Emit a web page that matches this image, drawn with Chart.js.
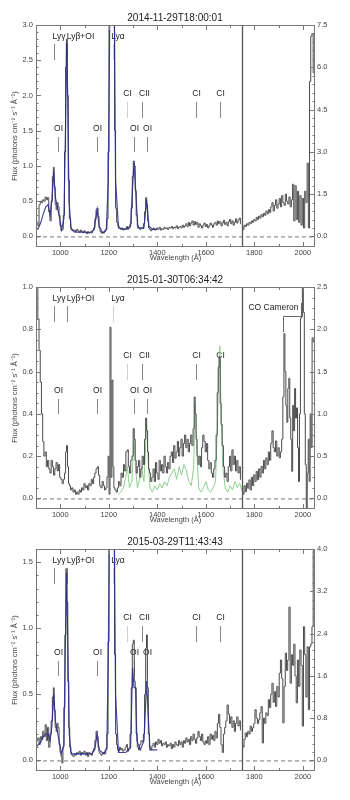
<!DOCTYPE html>
<html><head><meta charset="utf-8">
<script src="https://cdn.jsdelivr.net/npm/chart.js@4.4.1/dist/chart.umd.min.js"></script>
<style>
html,body{margin:0;padding:0;background:#fff;}
canvas{display:block;}
</style></head><body>
<canvas id="c1" width="350" height="262"></canvas>
<canvas id="c2" width="350" height="262"></canvas>
<canvas id="c3" width="350" height="276"></canvas>
<script>
// ---------- DATA ----------
const titles = ["2014-11-29T18:00:01", "2015-01-30T06:34:42", "2015-03-29T11:43:43"];
const xTicks = [1000, 1200, 1400, 1600, 1800, 2000];
const splitLambda = 1750;

// Panel 1
const p1LamL = [900,905,910,915,920,925,930,935,940,945,950,955,960,965,970,973,977,981,985,989,993,997,1001,1005,1010,1015,1020,1024,1027,1031,1035,1040,1045,1050,1055,1060,1065,1070,1075,1080,1085,1090,1095,1100,1105,1110,1115,1120,1125,1130,1135,1140,1145,1150,1154,1158,1162,1166,1170,1175,1180,1185,1190,1195,1199,1203,1208,1213,1218,1222,1226,1230,1235,1240,1245,1250,1255,1260,1265,1270,1275,1280,1285,1290,1295,1299,1303,1307,1311,1315,1320,1325,1330,1335,1340,1345,1350,1354,1358,1362,1366,1370,1375,1380,1385,1390,1395,1400,1405,1410,1415,1420,1425,1430,1435,1440,1445,1450,1455,1460,1465,1470,1475,1480,1485,1490,1495,1500,1505,1510,1515,1520,1525,1530,1535,1540,1545,1550,1555,1560,1565,1570,1575,1580,1585,1590,1595,1600,1605,1610,1615,1620,1625,1630,1635,1640,1645,1650,1655,1660,1665,1670,1675,1680,1685,1690,1695,1700,1705,1710,1715,1720,1725,1730,1735,1740,1745];
const p1FluxL = [0.35,0.20,0.15,0.45,0.50,0.48,0.52,0.50,0.56,0.52,0.55,0.35,0.22,0.50,0.85,0.98,0.70,0.45,0.38,0.48,0.42,0.30,0.15,0.08,0.10,0.30,1.20,2.40,2.80,2.00,0.80,0.25,0.12,0.10,0.08,0.09,0.07,0.10,0.08,0.06,0.09,0.07,0.05,0.08,0.06,0.04,0.07,0.05,0.06,0.05,0.08,0.12,0.25,0.38,0.40,0.28,0.12,0.07,0.05,0.06,0.05,0.07,0.10,0.25,1.20,3.50,3.50,3.50,3.50,3.50,1.50,0.40,0.20,0.15,0.12,0.10,0.12,0.09,0.11,0.10,0.14,0.10,0.12,0.18,0.40,0.85,1.07,1.00,0.65,0.30,0.15,0.12,0.10,0.12,0.11,0.18,0.35,0.55,0.45,0.22,0.12,0.10,0.08,0.10,0.12,0.09,0.10,0.12,0.10,0.13,0.09,0.11,0.10,0.13,0.11,0.12,0.10,0.13,0.12,0.14,0.11,0.13,0.12,0.15,0.11,0.13,0.14,0.12,0.16,0.13,0.15,0.18,0.14,0.20,0.15,0.19,0.22,0.16,0.21,0.17,0.20,0.13,0.18,0.15,0.12,0.16,0.19,0.14,0.17,0.12,0.15,0.19,0.16,0.13,0.18,0.20,0.16,0.22,0.18,0.21,0.15,0.19,0.23,0.17,0.20,0.15,0.21,0.24,0.18,0.22,0.16,0.20,0.25,0.19,0.23,0.26,0.18];
const p1LamR = [1750,1755,1760,1765,1770,1775,1780,1785,1790,1795,1800,1805,1810,1815,1820,1825,1830,1835,1840,1845,1850,1855,1860,1865,1870,1875,1880,1885,1890,1895,1900,1905,1910,1915,1920,1925,1930,1935,1940,1945,1950,1955,1960,1965,1970,1975,1980,1985,1990,1995,2000,2005,2010,2015,2020,2025,2030,2035,2040,2045];
const p1FluxR = [0.35,0.25,0.40,0.35,0.45,0.40,0.50,0.45,0.55,0.50,0.60,0.55,0.68,0.60,0.72,0.65,0.78,0.70,0.82,0.75,0.90,0.80,0.95,0.85,1.05,1.20,0.90,1.10,1.30,1.00,1.15,1.35,1.05,1.45,1.20,1.10,1.50,1.25,1.15,1.40,1.05,1.30,1.85,0.55,1.80,0.60,1.60,0.50,1.45,0.40,1.35,0.30,1.60,1.20,2.60,0.30,5.50,7.10,7.20,5.80];
const p1ModelLam = [900,910,920,930,940,950,958,965,973,980,988,995,1005,1015,1022,1026,1030,1036,1045,1060,1080,1100,1120,1140,1152,1160,1175,1190,1198,1205,1222,1228,1240,1270,1290,1298,1304,1310,1320,1345,1356,1365,1380,1400];
const p1Model = [0.10,0.12,0.20,0.32,0.42,0.45,0.30,0.50,0.92,0.55,0.42,0.30,0.10,0.25,1.60,2.75,2.10,0.50,0.10,0.06,0.06,0.06,0.05,0.10,0.38,0.15,0.05,0.10,0.80,3.50,3.50,0.80,0.12,0.10,0.15,0.70,1.05,0.70,0.12,0.12,0.52,0.15,0.10,0.10];

// Panel 2
const p2LamL = [900,905,910,915,920,925,930,935,940,945,950,955,960,965,970,975,980,985,990,995,1000,1005,1010,1015,1020,1024,1028,1032,1036,1040,1045,1050,1055,1060,1065,1070,1075,1080,1085,1090,1095,1100,1105,1110,1115,1120,1125,1130,1135,1140,1145,1150,1155,1160,1165,1170,1175,1180,1185,1190,1195,1199,1203,1207,1211,1215,1219,1223,1228,1233,1238,1243,1248,1253,1258,1263,1268,1273,1278,1283,1288,1293,1298,1303,1307,1311,1315,1320,1325,1330,1335,1340,1345,1350,1354,1358,1362,1366,1370,1375,1380,1385,1390,1395,1400,1405,1410,1415,1420,1425,1430,1435,1440,1445,1450,1455,1460,1465,1470,1475,1480,1485,1490,1495,1500,1505,1510,1515,1520,1525,1530,1535,1540,1545,1550,1554,1558,1562,1566,1570,1575,1580,1585,1590,1595,1600,1605,1610,1615,1620,1625,1630,1635,1640,1645,1649,1653,1657,1661,1665,1670,1675,1680,1685,1690,1695,1700,1705,1710,1715,1720,1725,1730,1735,1740,1745];
const p2FluxL = [1.05,1.00,0.85,0.70,0.55,0.40,0.27,0.20,0.22,0.15,0.18,0.14,0.12,0.18,0.15,0.11,0.14,0.17,0.13,0.16,0.10,0.09,0.07,0.09,0.12,0.22,0.25,0.15,0.07,0.06,0.04,0.05,0.03,0.04,0.02,0.03,0.02,0.04,0.03,0.05,0.04,0.07,0.05,0.06,0.04,0.07,0.06,0.09,0.07,0.10,0.12,0.14,0.15,0.11,0.06,0.05,0.08,0.06,0.04,0.05,0.10,0.20,0.02,0.81,0.10,0.56,0.15,0.05,0.04,0.03,0.05,0.08,0.06,0.12,0.10,0.16,0.13,0.22,0.23,0.15,0.12,0.18,0.20,0.33,0.28,0.18,0.12,0.15,0.18,0.10,0.14,0.20,0.16,0.28,0.38,0.32,0.22,0.14,0.12,0.08,0.10,0.14,0.08,0.17,0.12,0.09,0.18,0.13,0.16,0.12,0.20,0.15,0.12,0.17,0.14,0.20,0.22,0.17,0.25,0.19,0.22,0.27,0.20,0.24,0.28,0.20,0.26,0.30,0.24,0.28,0.22,0.26,0.30,0.25,0.33,0.48,0.40,0.28,0.20,0.16,0.20,0.15,0.24,0.30,0.27,0.22,0.26,0.18,0.14,0.17,0.12,0.10,0.14,0.18,0.30,0.50,0.62,0.67,0.45,0.35,0.25,0.15,0.10,0.12,0.08,0.15,0.20,0.13,0.23,0.16,0.20,0.13,0.18,0.12,0.15,0.09];
const p2LamR = [1750,1755,1760,1765,1770,1775,1780,1785,1790,1795,1800,1805,1810,1815,1820,1825,1830,1835,1840,1845,1850,1855,1860,1865,1870,1875,1880,1885,1890,1895,1900,1905,1910,1915,1920,1924,1928,1932,1936,1940,1944,1948,1952,1956,1960,1964,1968,1972,1976,1980,1984,1988,1992,1996,2000,2004,2008,2012,2016,2020,2024,2028,2032,2036,2040,2045];
const p2FluxR = [0.10,0.05,0.15,0.08,0.18,0.12,0.22,0.10,0.25,0.15,0.28,0.20,0.32,0.22,0.35,0.25,0.38,0.30,0.45,0.35,0.48,0.40,0.55,0.45,0.65,0.80,0.60,0.55,0.68,0.50,0.60,0.48,0.55,0.70,1.20,1.95,1.50,1.10,0.90,1.30,1.42,0.95,0.70,0.32,1.10,0.80,1.30,0.95,1.07,0.60,0.20,1.00,2.13,2.15,2.50,2.20,1.00,0.40,-0.12,0.30,0.70,0.20,1.00,0.60,1.90,1.85];
const p2ModelLam = [1240,1250,1260,1270,1277,1285,1295,1304,1310,1318,1325,1335,1345,1356,1362,1370,1380,1390,1400,1410,1420,1430,1440,1450,1460,1470,1480,1490,1500,1510,1520,1530,1540,1550,1556,1562,1570,1580,1590,1600,1610,1620,1630,1640,1648,1654,1658,1663,1670,1680,1690,1700,1710,1720,1730,1740,1748];
const p2Model = [0.02,0.03,0.05,0.10,0.15,0.05,0.08,0.28,0.15,0.05,0.08,0.15,0.08,0.35,0.18,0.05,0.03,0.06,0.04,0.07,0.05,0.08,0.06,0.10,0.12,0.14,0.09,0.15,0.11,0.16,0.13,0.08,0.06,0.15,0.45,0.25,0.05,0.03,0.05,0.08,0.04,0.03,0.05,0.08,0.35,0.65,0.72,0.40,0.15,0.05,0.03,0.06,0.04,0.08,0.05,0.07,0.04];

// Panel 3
const p3LamL = [900,905,910,915,920,925,930,935,940,945,950,955,960,965,970,973,977,981,985,989,993,997,1001,1005,1009,1013,1017,1021,1025,1029,1033,1037,1041,1045,1050,1055,1060,1065,1070,1075,1080,1085,1090,1095,1100,1105,1110,1115,1120,1125,1130,1135,1140,1145,1150,1154,1158,1162,1166,1170,1175,1180,1185,1190,1195,1199,1203,1208,1213,1218,1222,1226,1230,1234,1238,1242,1246,1250,1255,1260,1265,1270,1275,1280,1285,1290,1295,1299,1303,1307,1311,1315,1320,1325,1330,1335,1340,1345,1350,1354,1357,1361,1365,1370,1375,1380,1385,1390,1395,1400,1405,1410,1415,1420,1425,1430,1435,1440,1445,1450,1455,1460,1465,1470,1475,1480,1485,1490,1495,1500,1505,1510,1515,1520,1525,1530,1535,1540,1545,1550,1555,1560,1565,1570,1575,1580,1585,1590,1595,1600,1605,1610,1615,1620,1625,1630,1635,1640,1645,1650,1655,1660,1665,1670,1675,1680,1685,1690,1695,1700,1705,1710,1715,1720,1725,1730,1735,1740,1745];
const p3FluxL = [0.08,0.15,0.17,0.12,0.18,0.16,0.22,0.18,0.27,0.15,0.25,0.10,0.20,0.30,0.48,0.55,0.38,0.25,0.22,0.28,0.25,0.12,0.06,0.03,-0.02,0.10,0.40,0.95,1.45,1.20,0.60,0.25,0.10,0.06,0.04,0.03,0.05,0.04,0.06,0.05,0.07,0.04,0.06,0.05,0.07,0.04,0.06,0.03,0.06,0.05,0.04,0.07,0.09,0.15,0.22,0.18,0.10,0.06,0.05,0.04,0.05,0.06,0.05,0.08,0.20,0.90,1.80,1.80,1.80,1.80,1.80,0.80,0.20,0.12,0.08,0.07,0.10,0.08,0.09,0.07,0.08,0.10,0.12,0.07,0.09,0.20,0.55,0.88,0.91,0.60,0.55,0.20,0.10,0.08,0.12,0.15,0.14,0.20,0.50,0.85,0.95,0.55,0.20,0.10,0.08,0.11,0.13,0.10,0.14,0.12,0.16,0.13,0.15,0.11,0.13,0.12,0.14,0.10,0.12,0.11,0.13,0.09,0.12,0.10,0.14,0.12,0.11,0.15,0.12,0.14,0.10,0.15,0.13,0.17,0.14,0.16,0.12,0.18,0.15,0.20,0.16,0.13,0.17,0.22,0.18,0.15,0.20,0.14,0.12,0.15,0.13,0.18,0.12,0.20,0.16,0.19,0.15,0.22,0.17,0.28,0.35,0.25,0.12,0.06,0.20,0.25,0.30,0.42,0.35,0.28,0.33,0.25,0.30,0.22,0.28,0.33,0.26,0.30,0.23];
const p3LamR = [1750,1755,1760,1765,1770,1775,1780,1785,1790,1795,1800,1805,1810,1815,1820,1825,1830,1835,1840,1845,1850,1855,1860,1865,1870,1875,1880,1885,1890,1895,1900,1905,1910,1915,1920,1925,1930,1935,1940,1945,1950,1955,1960,1965,1970,1975,1980,1985,1990,1995,2000,2005,2010,2015,2020,2025,2030,2035,2040,2045];
const p3FluxR = [0.30,0.25,0.40,0.52,0.45,0.55,0.50,0.65,0.55,0.62,0.70,0.96,0.80,0.70,0.77,0.90,1.02,0.33,0.80,0.70,0.90,0.85,1.15,1.00,1.25,1.46,1.10,1.30,1.02,1.40,1.20,1.65,1.90,1.55,0.71,1.40,2.03,1.70,1.90,2.90,1.46,2.00,1.80,2.20,1.60,1.09,1.90,1.40,2.09,1.80,0.65,2.53,2.00,1.20,2.15,0.96,2.15,2.20,2.53,3.97];
const p3ModelLam = [900,910,920,930,940,950,958,965,973,980,988,995,1005,1015,1021,1026,1031,1037,1045,1070,1100,1130,1142,1152,1160,1180,1192,1198,1203,1222,1228,1240,1270,1290,1298,1304,1310,1316,1330,1345,1356,1362,1370,1400];
const p3Model = [0.10,0.12,0.14,0.18,0.20,0.20,0.15,0.25,0.50,0.30,0.22,0.15,0.05,0.12,0.85,1.42,0.90,0.20,0.05,0.05,0.05,0.05,0.08,0.20,0.08,0.05,0.10,0.80,1.80,1.80,0.50,0.06,0.06,0.10,0.70,0.55,0.55,0.15,0.08,0.15,0.60,0.35,0.08,0.08];

// axis ranges / ticks
const p1LeftTicks = [0, 0.5, 1.0, 1.5, 2.0, 2.5, 3.0];
const p1RightTicks = [0, 1.5, 3.0, 4.5, 6.0, 7.5];
const p2LeftTicks = [0, 0.2, 0.4, 0.6, 0.8, 1.0];
const p2RightTicks = [0, 0.5, 1.0, 1.5, 2.0, 2.5];
const p3LeftTicks = [0, 0.5, 1.0, 1.5];
const p3RightTicks = [0, 0.8, 1.6, 2.4, 3.2, 4.0];
const leftMax = [3.0, 1.0, 1.6];
const rightMax = [7.5, 2.5, 4.0];

// spectral line identifications: [label, wavelength, row]
const lineIds = [
  ["Lyγ", 973, 0], ["Lyβ+OI", 1026, 0], ["Lyα", 1216, 0],
  ["CI", 1277, 1], ["CII", 1335, 1], ["CI", 1561, 1], ["CI", 1657, 1],
  ["OI", 989, 2], ["OI", 1152, 2], ["OI", 1304, 2], ["OI", 1356, 2]
];
const coCameron = ["CO Cameron", 1918, 1992];

// ---------- STYLE ----------
const FONT = "'Liberation Sans', Arial, Helvetica, sans-serif";
const labelDx = {"Lyγ": 4.5, "Lyβ+OI": 13, "Lyα": 4.5, "CII": 2};
const rowGeom = [ {label: 12, y0: 19, y1: 35}, {label: 69, y0: 77, y1: 93}, {label: 104, y0: 112, y1: 127} ];
const lightMarkers = {"Lyα": true, "CI@1277": true};

function pts(lam, val) { return lam.map((x, i) => ({x: x, y: val[i]})); }

const decor = {
  id: 'decor',
  beforeDatasetsDraw(chart, args, o) {
    const {ctx, chartArea: a, scales: {x}} = chart;
    ctx.save();
    const y0 = chart.scales.y.getPixelForValue(0);
    ctx.strokeStyle = '#777'; ctx.lineWidth = 1; ctx.setLineDash([4, 3]);
    ctx.beginPath(); ctx.moveTo(a.left, y0 + 0.5); ctx.lineTo(a.right, y0 + 0.5); ctx.stroke();
    ctx.setLineDash([]);
    ctx.font = "8.5px " + FONT; ctx.textAlign = 'center'; ctx.textBaseline = 'middle';
    lineIds.forEach(([lab, lam, row]) => {
      const px = Math.round(x.getPixelForValue(lam)) + 0.5;
      const g = rowGeom[row];
      const light = lightMarkers[lab] || lightMarkers[lab + '@' + lam];
      ctx.strokeStyle = light ? '#d0d0d0' : '#888';
      ctx.beginPath(); ctx.moveTo(px, a.top + g.y0); ctx.lineTo(px, a.top + g.y1); ctx.stroke();
      ctx.fillStyle = '#222';
      ctx.fillText(lab, px + (labelDx[lab] || 0), a.top + g.label);
    });
    if (o.co) {
      const xl = Math.round(x.getPixelForValue(coCameron[1])) + 0.5;
      const xr = Math.round(x.getPixelForValue(coCameron[2])) + 0.5;
      const yb = a.top + 29.5;
      ctx.strokeStyle = '#666';
      ctx.beginPath(); ctx.moveTo(xl, a.top + 45); ctx.lineTo(xl, yb); ctx.lineTo(xr, yb); ctx.lineTo(xr, a.top + 16); ctx.stroke();
      ctx.fillStyle = '#222';
      ctx.fillText(coCameron[0], (xl + xr) / 2 - 19, a.top + 21);
    }
    ctx.restore();
  },
  afterDatasetsDraw(chart) {
    const {ctx, chartArea: a, scales: {x}} = chart;
    ctx.save();
    const px = Math.round(x.getPixelForValue(splitLambda)) + 0.5;
    ctx.strokeStyle = '#555'; ctx.lineWidth = 1.3;
    ctx.beginPath(); ctx.moveTo(px, a.top); ctx.lineTo(px, a.bottom); ctx.stroke();
    ctx.restore();
  },
  afterDraw(chart, args, o) {
    const {ctx, chartArea: a, scales} = chart;
    ctx.save();
    ctx.strokeStyle = '#777'; ctx.lineWidth = 1;
    ctx.strokeRect(a.left + 0.5, a.top + 0.5, a.right - a.left - 1, a.bottom - a.top - 1);
    for (let v = 900; v <= 2050; v += 100) {
      const px = Math.round(scales.x.getPixelForValue(v)) + 0.5;
      const len = (v % 200 === 0) ? 5 : 3;
      ctx.beginPath();
      ctx.moveTo(px, a.bottom); ctx.lineTo(px, a.bottom - len);
      ctx.moveTo(px, a.top); ctx.lineTo(px, a.top + len);
      ctx.stroke();
    }
    [['y', a.left, 1, o.lt], ['y2', a.right, -1, o.rt]].forEach(([id, x0, dir, ticks]) => {
      const sc = scales[id];
      const step = ticks[1] - ticks[0];
      const nm = o.minor;
      for (let i = 0; i < ticks.length; i++) {
        for (let k = 0; k < nm; k++) {
          const v = ticks[i] + k * step / nm;
          if (v > sc.max + 1e-9) continue;
          const py = Math.round(sc.getPixelForValue(v)) + 0.5;
          const len = k === 0 ? 5 : 2.5;
          ctx.beginPath(); ctx.moveTo(x0, py); ctx.lineTo(x0 + dir * len, py); ctx.stroke();
        }
      }
    });
    ctx.restore();
  }
};

function makeChart(id, idx, d) {
  const tickFont = {size: 7.5, family: FONT};
  const datasets = [];
  if (d.model) {
    datasets.push({data: pts(d.modelLam, d.model), yAxisID: 'y', borderColor: d.modelColor,
      borderWidth: d.modelWidth, pointRadius: 0, order: d.modelOrder});
  }
  datasets.push({data: pts(d.lamL, d.fluxL), yAxisID: 'y', borderColor: '#4a4a4a', borderWidth: 1,
    pointRadius: 0, stepped: 'middle', order: 1});
  datasets.push({data: pts(d.lamR, d.fluxR), yAxisID: 'y2', borderColor: '#4a4a4a', borderWidth: 1,
    pointRadius: 0, stepped: 'middle', order: 1});
  return new Chart(document.getElementById(id), {
    type: 'line',
    data: {datasets},
    plugins: [decor],
    options: {
      responsive: false, animation: false, devicePixelRatio: 1,
      layout: {padding: {top: 0, left: 0, right: 0, bottom: d.bottomPad || 0}},
      plugins: {
        legend: {display: false}, tooltip: {enabled: false},
        title: {display: true, text: titles[idx], color: '#222',
          font: {size: 10, family: FONT, weight: 'normal'}, padding: {top: 12.5, bottom: 0.5}},
        decor: {lt: d.lt, rt: d.rt, minor: d.minor, co: d.co}
      },
      scales: {
        x: {type: 'linear', min: 900, max: 2050,
          afterBuildTicks: s => { s.ticks = xTicks.map(v => ({value: v})); },
          afterFit: s => { s.height = 15; },
          ticks: {font: tickFont, color: '#444', padding: 1, maxRotation: 0, autoSkip: false, callback: v => String(v)},
          grid: {display: false, drawTicks: false}, border: {display: false},
          title: {display: true, text: 'Wavelength (Å)', font: {size: 7.5, family: FONT}, color: '#444', padding: {top: 0, bottom: 0}}
        },
        y: {position: 'left', min: -0.05 * leftMax[idx], max: leftMax[idx],
          afterBuildTicks: s => { s.ticks = d.lt.map(v => ({value: v})); },
          afterFit: s => { s.width = 36; },
          ticks: {font: tickFont, color: '#444', padding: 3, callback: v => v.toFixed(1)},
          grid: {display: false, drawTicks: false}, border: {display: false},
          title: {display: true, text: 'Flux (photons cm⁻² s⁻¹ Å⁻¹)', font: {size: 7.5, family: FONT}, color: '#444', padding: {top: 10.5, bottom: 0}}
        },
        y2: {position: 'right', min: -0.05 * rightMax[idx], max: rightMax[idx],
          afterBuildTicks: s => { s.ticks = d.rt.map(v => ({value: v})); },
          afterFit: s => { s.width = 35; },
          ticks: {font: tickFont, color: '#444', padding: 2, callback: v => v.toFixed(1)},
          grid: {display: false, drawTicks: false}, border: {display: false}
        }
      }
    }
  });
}

makeChart('c1', 0, {lamL: p1LamL, fluxL: p1FluxL, lamR: p1LamR, fluxR: p1FluxR,
  modelLam: p1ModelLam, model: p1Model, modelColor: 'rgba(40,40,140,0.85)', modelWidth: 1.2, modelOrder: 0,
  lt: p1LeftTicks, rt: p1RightTicks, minor: 5});
makeChart('c2', 1, {lamL: p2LamL, fluxL: p2FluxL, lamR: p2LamR, fluxR: p2FluxR,
  modelLam: p2ModelLam, model: p2Model, modelColor: '#8fd08f', modelWidth: 1, modelOrder: 2,
  lt: p2LeftTicks, rt: p2RightTicks, minor: 4, co: true});
makeChart('c3', 2, {lamL: p3LamL, fluxL: p3FluxL, lamR: p3LamR, fluxR: p3FluxR,
  modelLam: p3ModelLam, model: p3Model, modelColor: 'rgba(40,40,140,0.85)', modelWidth: 1.2, modelOrder: 0,
  lt: p3LeftTicks, rt: p3RightTicks, minor: 5, bottomPad: 14});
</script>
</body></html>
